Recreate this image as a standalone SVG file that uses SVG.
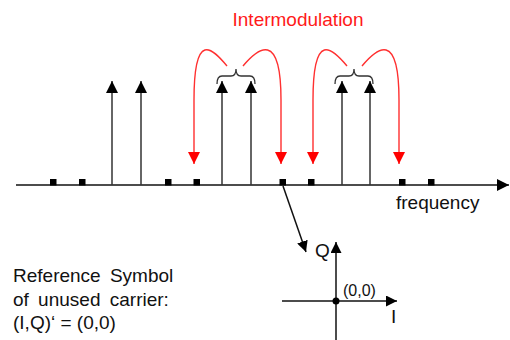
<svg xmlns="http://www.w3.org/2000/svg" width="510" height="340" viewBox="0 0 510 340">
<style>
text{font-family:"Liberation Sans",Arial,sans-serif;}
.lbl{font-size:19px;fill:#111;}
.red{font-size:19px;fill:#ff1a1a;}
.ax{stroke:#111;stroke-width:1.5;fill:none;}
.car{stroke:#333;stroke-width:1.5;fill:none;}
.im{stroke:#ff3030;stroke-width:1.4;fill:none;}
.br{stroke:#333;stroke-width:1.3;fill:none;}
.sq{fill:#000;}
</style>
<defs>
<marker id="ab" markerUnits="userSpaceOnUse" markerWidth="12" markerHeight="12" refX="12" refY="6" orient="auto" viewBox="0 0 12 12"><path d="M0,0 L12,6 L0,12 z" fill="#000"/></marker>
<marker id="ar" markerUnits="userSpaceOnUse" markerWidth="12" markerHeight="12" refX="12" refY="6" orient="auto" viewBox="0 0 12 12"><path d="M0,0 L12,6 L0,12 z" fill="#ff0000"/></marker>
<marker id="as" markerUnits="userSpaceOnUse" markerWidth="11" markerHeight="11" refX="11" refY="5.5" orient="auto" viewBox="0 0 11 11"><path d="M0,0 L11,5.5 L0,11 z" fill="#000"/></marker>
</defs>
<g id="freq-axis">
<line class="ax" x1="16" y1="185" x2="509" y2="185" marker-end="url(#ab)"/>
<text class="lbl" x="396" y="209">frequency</text>
</g>
<g id="unused-carriers">
<rect class="sq" x="50" y="179" width="6.5" height="6.5"/>
<rect class="sq" x="79" y="179" width="6.5" height="6.5"/>
<rect class="sq" x="165" y="179" width="6.5" height="6.5"/>
<rect class="sq" x="193.5" y="179" width="6.5" height="6.5"/>
<rect class="sq" x="279.5" y="179" width="6.5" height="6.5"/>
<rect class="sq" x="308" y="179" width="6.5" height="6.5"/>
<rect class="sq" x="399" y="179" width="6.5" height="6.5"/>
<rect class="sq" x="428" y="179" width="6.5" height="6.5"/>
</g>
<g id="carriers">
<line class="car" x1="112" y1="185" x2="112" y2="81" marker-end="url(#ab)"/>
<line class="car" x1="141" y1="185" x2="141" y2="81" marker-end="url(#ab)"/>
<line class="car" x1="222" y1="185" x2="222" y2="81" marker-end="url(#ab)"/>
<line class="car" x1="251" y1="185" x2="251" y2="81" marker-end="url(#ab)"/>
<line class="car" x1="342" y1="185" x2="342" y2="81" marker-end="url(#ab)"/>
<line class="car" x1="370" y1="185" x2="370" y2="81" marker-end="url(#ab)"/>
</g>
<g id="braces">
<path class="br" d="M217,84 Q217,76 222,76 L231,76 Q236,76 236,69 Q236,76 241,76 L250,76 Q255,76 255,84"/>
<path class="br" d="M335,84 Q335,76 340,76 L349,76 Q354,76 354,69 Q354,76 359,76 L368,76 Q373,76 373,84"/>
</g>
<g id="intermodulation">
<text class="red" x="298" y="26" text-anchor="middle">Intermodulation</text>
<path class="im" d="M227,66 C212,48 194,30 194,100 L194,164" marker-end="url(#ar)"/>
<path class="im" d="M243,66 C258,48 281,30 281,100 L281,164" marker-end="url(#ar)"/>
<path class="im" d="M347,66 C332,48 313,30 313,100 L313,164" marker-end="url(#ar)"/>
<path class="im" d="M362,66 C377,48 399,30 399,100 L399,164" marker-end="url(#ar)"/>
</g>
<g id="connectors">
<line class="ax" x1="283" y1="186" x2="306" y2="252" stroke-width="1.3" marker-end="url(#as)"/>
</g>
<g id="constellation">
<line class="ax" x1="336" y1="340" x2="336" y2="242" stroke-width="1.3" marker-end="url(#as)"/>
<line class="ax" x1="282" y1="301" x2="397" y2="301" stroke-width="1.3" marker-end="url(#as)"/>
<circle cx="336" cy="301" r="3.5" fill="#000"/>
<text class="lbl" x="315" y="257">Q</text>
<text class="lbl" x="391" y="323">I</text>
<text class="lbl" x="343" y="296" style="font-size:16px">(0,0)</text>
</g>
<g id="reference-note">
<text class="lbl" x="13" y="282" word-spacing="4">Reference Symbol</text>
<text class="lbl" x="13" y="306" word-spacing="4">of unused carrier:</text>
<text class="lbl" x="13" y="329">(I,Q)‘ = (0,0)</text>
</g>
</svg>
